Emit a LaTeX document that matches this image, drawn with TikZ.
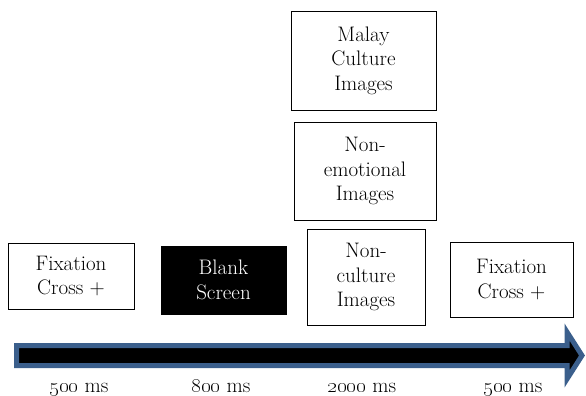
\documentclass[tikz,border=0pt]{standalone}
\usepackage{tikz}
\usetikzlibrary{positioning}

\definecolor{arrowblue}{HTML}{3B5F8C}

\begin{document}
\begin{tikzpicture}[
  x=1pt, y=-1pt,
  every node/.style={font=\fontsize{21}{24.5}\selectfont},
  stim/.style={rectangle, draw=black, thick, fill=white, align=center, inner sep=2pt},
  blank/.style={stim, fill=black, text=white},
  timeLabel/.style={inner sep=0pt, anchor=base}
]
  \useasboundingbox (0,0) rectangle (586,396);

  % stimulus boxes
  \node[stim, minimum width=126pt, minimum height=66pt] (fix1) at (71,276) {Fixation\\Cross +};
  \node[blank, minimum width=125pt, minimum height=68pt] (blank) at (223.5,280) {Blank\\Screen};
  \node[stim, minimum width=145pt, minimum height=99pt] (malay) at (363.5,60.5) {Malay\\Culture\\Images};
  \node[stim, minimum width=142pt, minimum height=98pt] (nonemo) at (365,171) {Non-\\emotional\\Images};
  \node[stim, minimum width=118pt, minimum height=96pt] (noncult) at (366,277) {Non-\\culture\\Images};
  \node[stim, minimum width=123pt, minimum height=75pt] (fix2) at (511.5,279.5) {Fixation\\Cross +};

  % time line
  \draw[arrowblue, line width=5pt, fill=black, line join=miter]
    (16.5,345.5) -- (567,345.5) -- (567,332) -- (582,355.5) -- (567,379)
    -- (567,365.5) -- (16.5,365.5) -- cycle;

  \node[timeLabel] (t1) at (79,392) {\oldstylenums{500} ms};
  \node[timeLabel] (t2) at (221,392) {\oldstylenums{800} ms};
  \node[timeLabel] (t3) at (362,392) {\oldstylenums{2000} ms};
  \node[timeLabel] (t4) at (513,392) {\oldstylenums{500} ms};
\end{tikzpicture}
\end{document}
